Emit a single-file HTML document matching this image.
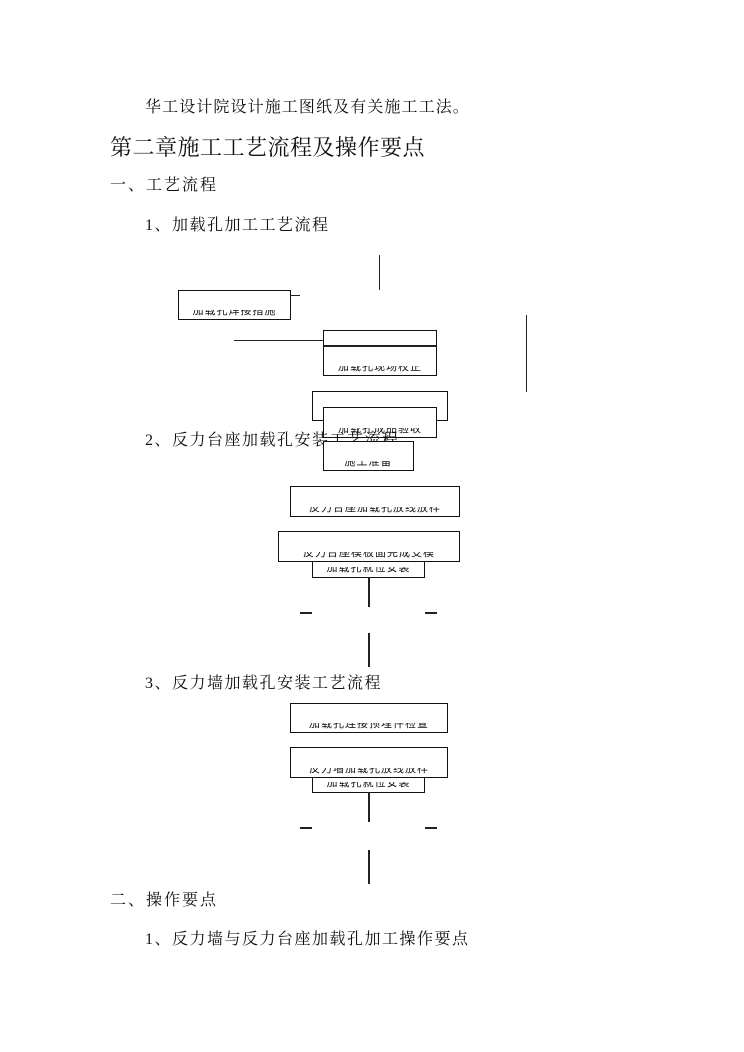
<!DOCTYPE html>
<html><head><meta charset="utf-8">
<style>
body{margin:0;width:744px;height:1052px;background:#fff;position:relative;overflow:hidden;font-family:"Liberation Serif","Noto Serif CJK SC",serif;color:#111}
.t{position:absolute;white-space:nowrap;line-height:1}
.b{position:absolute;border:1.5px solid #111;box-sizing:border-box;background:#fff}
.l{position:absolute;background:#222}
.bt{position:absolute;left:0;right:0;bottom:2px;height:7px;overflow:hidden;text-align:center}
.bt span{display:block;font-family:"Liberation Sans","Noto Sans CJK SC",sans-serif;font-size:11px;line-height:11px;margin-top:-4px;letter-spacing:1px}
</style></head><body>
<div class="t" style="left:145px;top:100px;font-size:16px;letter-spacing:1.1px">华工设计院设计施工图纸及有关施工工法。</div>
<div class="t" style="left:110px;top:137px;font-size:22px;letter-spacing:0.5px">第二章施工工艺流程及操作要点</div>
<div class="t" style="left:110px;top:178px;font-size:16px;letter-spacing:2px">一、工艺流程</div>
<div class="t" style="left:145px;top:218px;font-size:16px;letter-spacing:1.5px">1、加载孔加工工艺流程</div>

<div class="l" style="left:379px;top:255px;width:1px;height:35px"></div>
<div class="b" style="left:178px;top:290px;width:113px;height:30px"><div class="bt"><span>加载孔焊接措施</span></div></div>
<div class="l" style="left:290px;top:295px;width:10px;height:1px"></div>
<div class="l" style="left:234px;top:340px;width:89px;height:1px"></div>
<div class="b" style="left:323px;top:330px;width:114px;height:46px"><div class="l" style="left:0;right:0;top:14px;height:1.5px"></div><div class="bt"><span>加载孔现场校正</span></div></div>
<div class="l" style="left:526px;top:315px;width:1px;height:77px"></div>
<div class="b" style="left:312px;top:391px;width:136px;height:30px"></div>
<div class="b" style="left:323px;top:407px;width:114px;height:31px"><div class="bt"><span>加载孔成品验收</span></div></div>
<div class="t" style="left:145px;top:433px;font-size:16px;letter-spacing:1.5px">2、反力台座加载孔安装工艺流程</div>
<div class="b" style="left:323px;top:441px;width:91px;height:30px"><div class="bt"><span>施工准备</span></div></div>

<div class="b" style="left:290px;top:486px;width:170px;height:31px"><div class="bt"><span>反力台座加载孔放线放样</span></div></div>
<div class="b" style="left:278px;top:531px;width:182px;height:31px"><div class="bt"><span>反力台座模板面完成支模</span></div></div>
<div class="b" style="left:312px;top:561px;width:113px;height:17px"><div class="bt" style="bottom:3px"><span>加载孔就位安装</span></div></div>
<div class="l" style="left:368px;top:577px;width:2px;height:30px"></div>
<div class="l" style="left:300px;top:612px;width:12px;height:1.5px"></div>
<div class="l" style="left:425px;top:612px;width:12px;height:1.5px"></div>
<div class="l" style="left:368px;top:633px;width:2px;height:34px"></div>

<div class="t" style="left:145px;top:676px;font-size:16px;letter-spacing:1.5px">3、反力墙加载孔安装工艺流程</div>
<div class="b" style="left:290px;top:703px;width:158px;height:30px"><div class="bt"><span>加载孔连接预埋件检查</span></div></div>
<div class="b" style="left:290px;top:747px;width:158px;height:31px"><div class="bt"><span>反力墙加载孔放线放样</span></div></div>
<div class="b" style="left:312px;top:777px;width:113px;height:16px"><div class="bt" style="bottom:3px"><span>加载孔就位安装</span></div></div>
<div class="l" style="left:368px;top:792px;width:2px;height:30px"></div>
<div class="l" style="left:300px;top:827px;width:12px;height:1.5px"></div>
<div class="l" style="left:425px;top:827px;width:12px;height:1.5px"></div>
<div class="l" style="left:368px;top:850px;width:2px;height:34px"></div>

<div class="t" style="left:110px;top:893px;font-size:16px;letter-spacing:2px">二、操作要点</div>
<div class="t" style="left:145px;top:932px;font-size:16px;letter-spacing:1.5px">1、反力墙与反力台座加载孔加工操作要点</div>
</body></html>
